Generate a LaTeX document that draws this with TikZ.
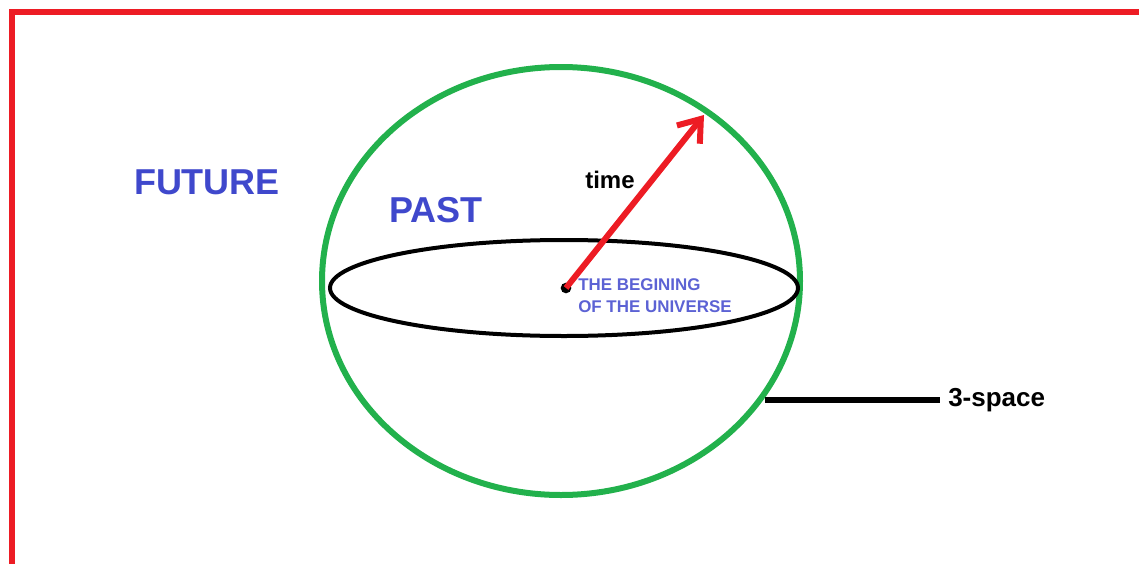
\documentclass[tikz,border=0pt]{standalone}
\usepackage{fontspec}
\setmainfont{Liberation Sans}
\usetikzlibrary{arrows.meta}
\definecolor{paintred}{RGB}{237,28,36}
\definecolor{paintgreen}{RGB}{34,177,76}
\definecolor{paintblue}{RGB}{63,72,204}
\definecolor{softblue}{RGB}{92,98,212}

\tikzset{
  bigword/.style={text=paintblue, font=\fontsize{27}{30}\selectfont\bfseries, inner sep=0pt},
  tag/.style={text=black, font=\bfseries, inner sep=0pt},
}

\begin{document}
\begin{tikzpicture}[x=0.75pt, y=-0.75pt]
            \useasboundingbox (0,0) rectangle (1139,564);
            % frame
            \draw[paintred, line width=5pt] (12,564) -- (12,12) -- (1139,12);

            % the sphere and its equator
            \draw[paintgreen, line width=4.5pt] (561,281) ellipse [x radius=239, y radius=214];
            \draw[black, line width=3pt] (564,288) ellipse [x radius=234, y radius=48];

            \node[circle, fill=black, inner sep=0pt, minimum size=8pt] (origin) at (566,288) {};
            \coordinate (now) at (704,115);
            \draw[paintred, line width=4.5pt, -{Straight Barb[length=15pt, width=22pt]}] (origin.center) -- (now);

            \node[tag, font=\fontsize{18}{20}\selectfont\bfseries] (time) at (610,180) {time};
            \node[bigword] (future) at (207,182) {FUTURE};
            \node[bigword] (past) at (436,210) {PAST};

            \node[anchor=north west, text=softblue, font=\fontsize{12.7}{17}\selectfont\bfseries,
                  align=left, inner sep=0pt] (begin) at (578,278) {THE BEGINING\\OF THE UNIVERSE};

            % label of the shell
            \coordinate (shell) at (765,400);
            \node[tag, anchor=west, font=\fontsize{19.5}{21}\selectfont\bfseries] (space) at (948,400) {3-space};
            \draw[black, line width=4.5pt, shorten >=6pt] (shell) -- (space.west);
        \end{tikzpicture}
\end{document}
